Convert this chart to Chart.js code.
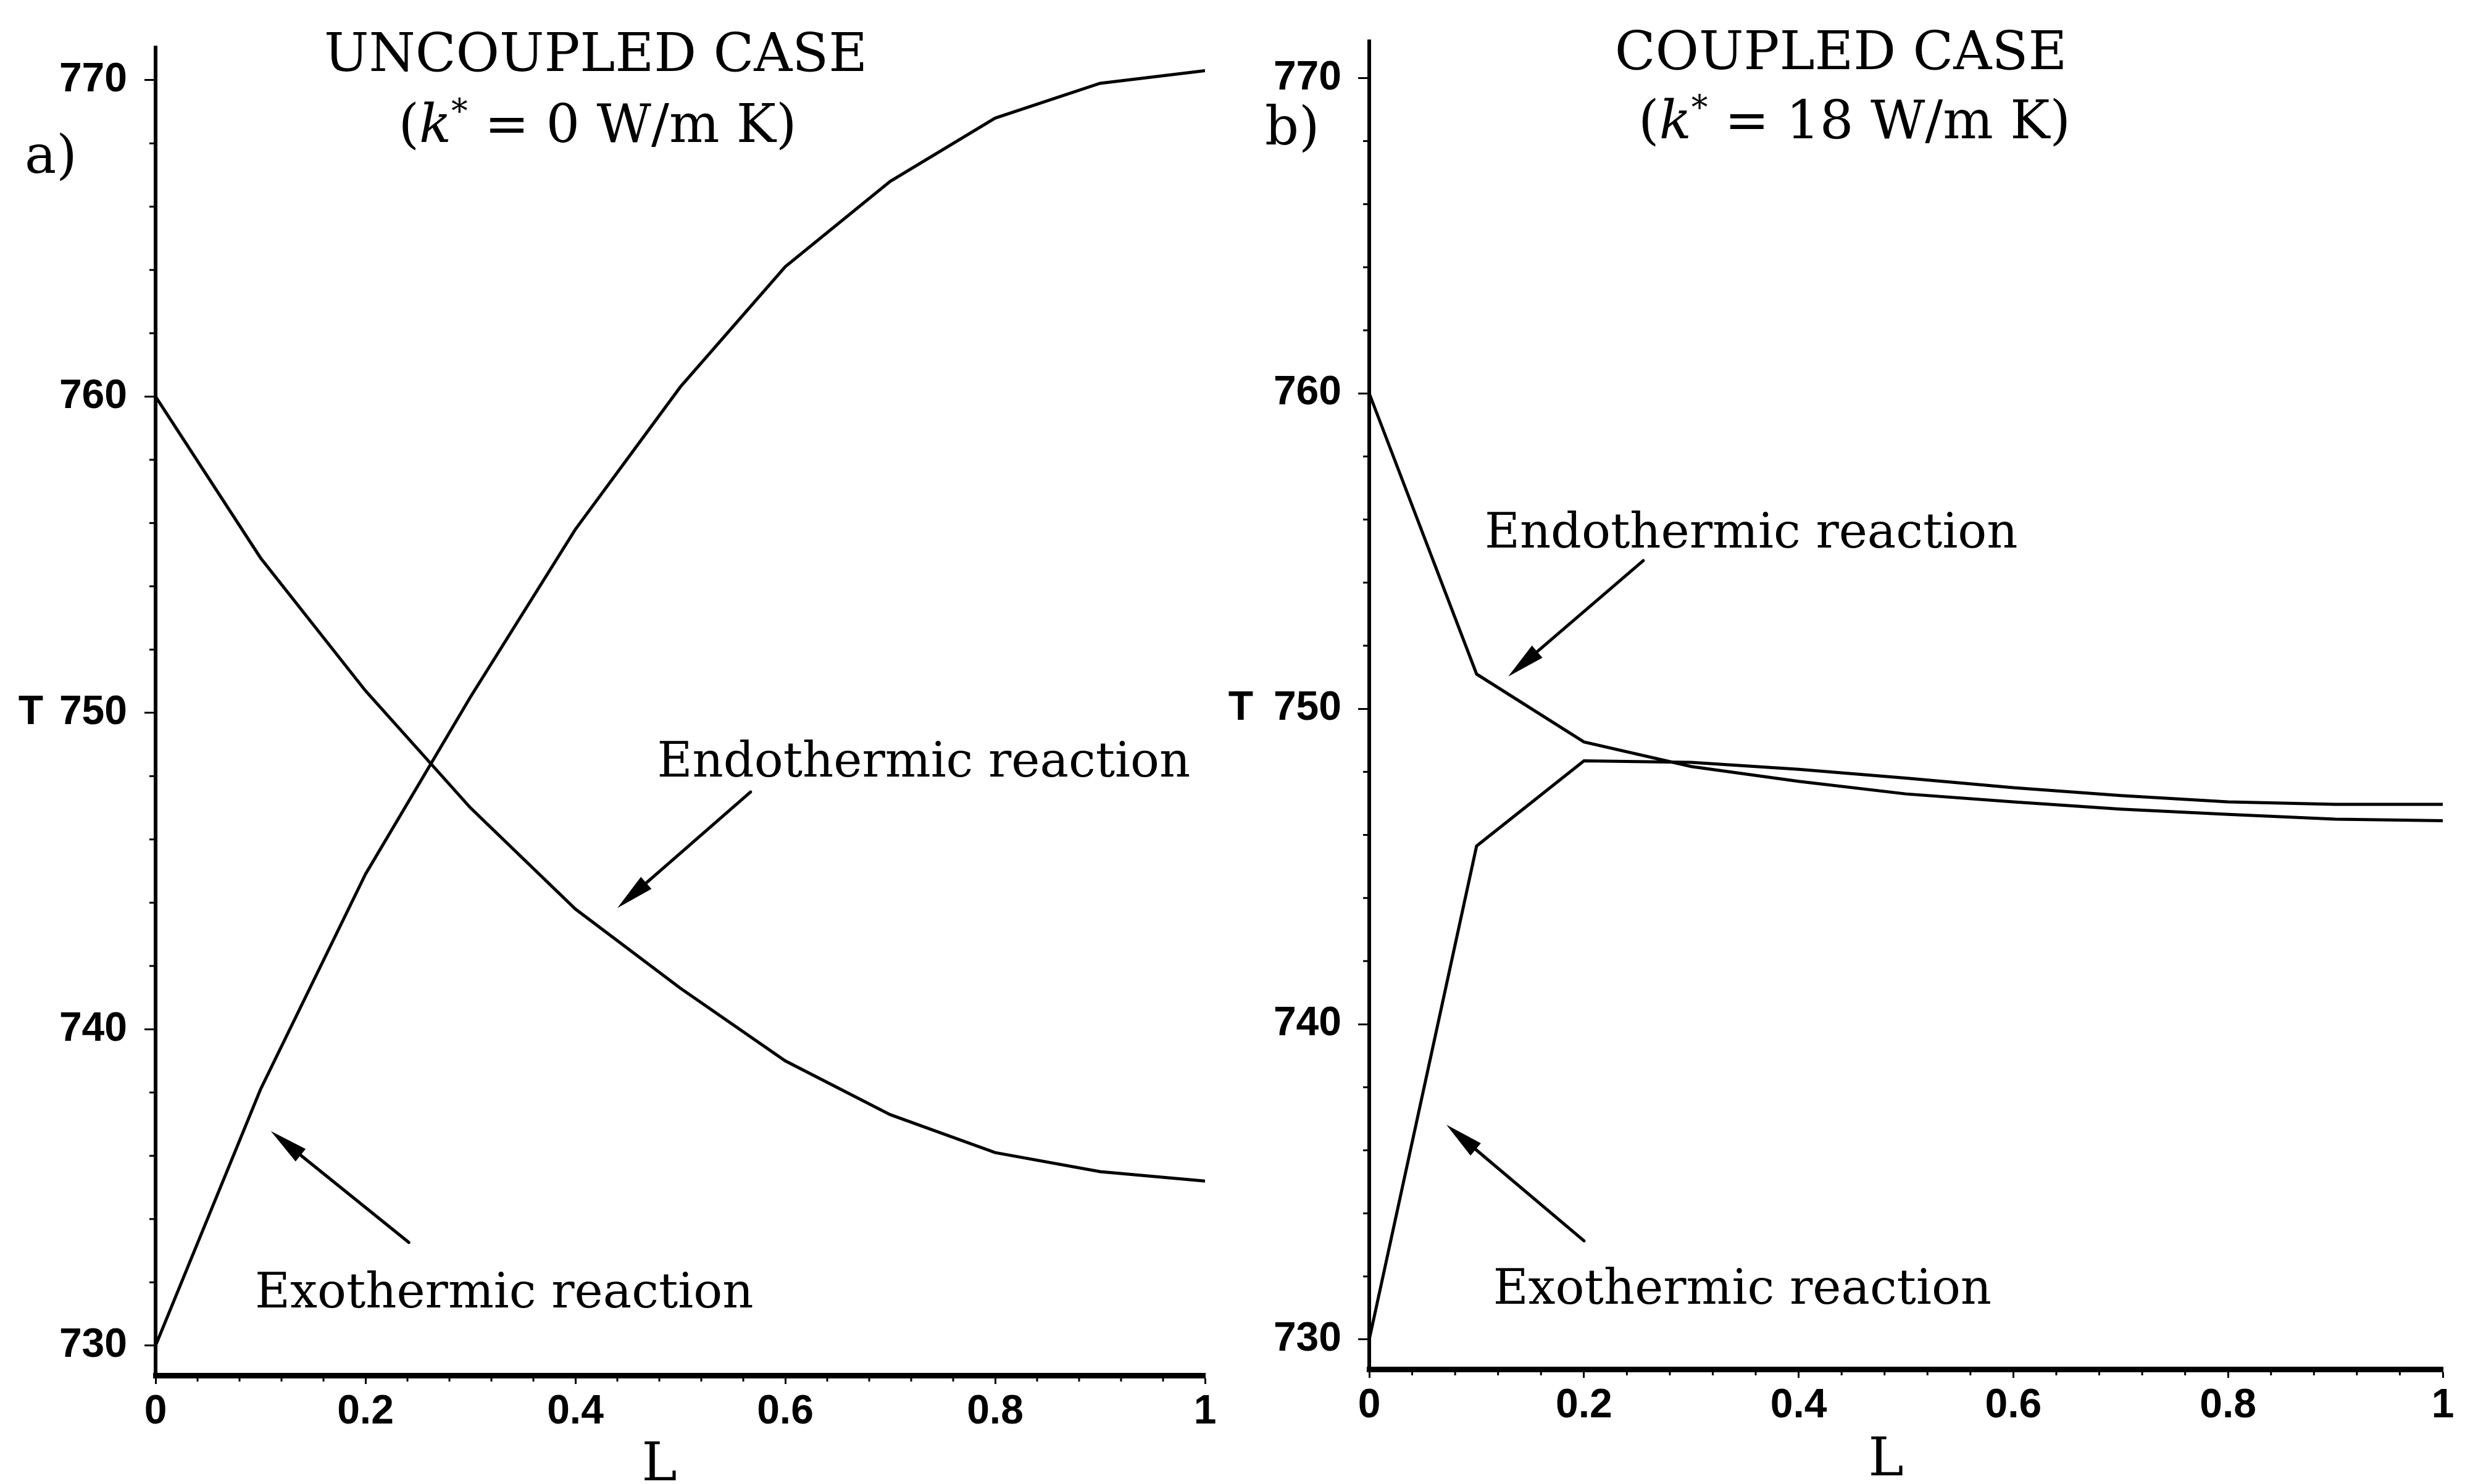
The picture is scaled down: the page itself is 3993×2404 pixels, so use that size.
<!DOCTYPE html>
<html><head><meta charset="utf-8">
<script src="https://cdn.jsdelivr.net/npm/chart.js@4.4.1/dist/chart.umd.min.js"></script>
<style>
html,body{margin:0;padding:0;background:#fff;}
body{width:3993px;height:2404px;position:relative;overflow:hidden;}
canvas{position:absolute;top:0;}
#c1{left:0;} #c2{left:1990px;}
</style></head><body>
<canvas id="c1" width="1990" height="2404"></canvas>
<canvas id="c2" width="2003" height="2404"></canvas>
<script>
// ---------------- DATA ----------------
const L = [0, 0.1, 0.2, 0.3, 0.4, 0.5, 0.6, 0.7, 0.8, 0.9, 1.0];
const uncoupledExo  = [730, 738.1, 744.9, 750.5, 755.8, 760.3, 764.1, 766.8, 768.8, 769.9, 770.3];
const uncoupledEndo = [760, 754.9, 750.7, 747.0, 743.8, 741.3, 739.0, 737.3, 736.1, 735.5, 735.2];
const coupledExo    = [730, 745.65, 748.35, 748.3, 748.08, 747.8, 747.5, 747.25, 747.05, 746.97, 746.97];
const coupledEndo   = [760, 751.1, 748.95, 748.17, 747.7, 747.3, 747.05, 746.82, 746.65, 746.5, 746.45];
const yTickValues = [730, 740, 750, 760, 770];
const yTickLabels = ['730', '740', '750', '760', '770'];
const xTickValues = [0, 0.2, 0.4, 0.6, 0.8, 1];
const xTickLabels = ['0', '0.2', '0.4', '0.6', '0.8', '1'];
const panelTitles = ['UNCOUPLED CASE', 'COUPLED CASE'];
const panelK = ['0', '18'];
const panelLetters = ['a)', 'b)'];
const xAxisTitle = 'L';
const yAxisTitle = 'T';
const endoLabel = 'Endothermic reaction';
const exoLabel = 'Exothermic reaction';

// ---------------- STYLE ----------------
const SERIF = '"DejaVu Serif", "Liberation Serif", serif';
const SANS = '"Liberation Sans", Arial, sans-serif';
const INK = '#000';

function drawRich(ctx, segs, cx, y, size) {
  let total = 0;
  const parts = segs.map(s => {
    const fs = s.sup ? size * 0.62 : size;
    const font = (s.italic ? 'italic ' : '') + fs + 'px ' + SERIF;
    ctx.font = font;
    const w = ctx.measureText(s.t).width;
    total += w;
    return {font, w, t: s.t, dy: s.sup ? -size * 0.36 : 0};
  });
  let x = cx - total / 2;
  ctx.textAlign = 'left'; ctx.textBaseline = 'alphabetic';
  parts.forEach(p => { ctx.font = p.font; ctx.fillText(p.t, x, y + p.dy); x += p.w; });
}

function drawArrow(ctx, x1, y1, x2, y2, lw, hl, hw) {
  const a = Math.atan2(y2 - y1, x2 - x1);
  const bx = x2 - hl * Math.cos(a), by = y2 - hl * Math.sin(a);
  ctx.lineWidth = lw; ctx.strokeStyle = INK; ctx.fillStyle = INK; ctx.lineCap = 'round';
  ctx.beginPath(); ctx.moveTo(x1, y1); ctx.lineTo(bx, by); ctx.stroke();
  ctx.beginPath(); ctx.moveTo(x2, y2);
  ctx.lineTo(bx + hw * Math.sin(a), by - hw * Math.cos(a));
  ctx.lineTo(bx - hw * Math.sin(a), by + hw * Math.cos(a));
  ctx.closePath(); ctx.fill();
}

const panelPlugin = {
  id: 'panel',
  afterDraw(chart, args, o) {
    const ctx = chart.ctx, xs = chart.scales.x, ys = chart.scales.y, ca = chart.chartArea;
    const px = v => xs.getPixelForValue(v), py = v => ys.getPixelForValue(v);
    ctx.save();
    ctx.fillStyle = INK; ctx.strokeStyle = INK;
    // minor ticks
    ctx.lineWidth = 3;
    for (let v = 730; v <= 770.01; v += 2) {
      if (Math.abs(v % 10) < 0.01) continue;
      const y = py(v);
      ctx.beginPath(); ctx.moveTo(ca.left - 10, y); ctx.lineTo(ca.left, y); ctx.stroke();
    }
    for (let i = 0; i <= 25; i++) {
      if (i % 5 === 0) continue;
      const x = px(i * 0.04);
      ctx.beginPath(); ctx.moveTo(x, ca.bottom); ctx.lineTo(x, ca.bottom + 10); ctx.stroke();
    }
    // title
    ctx.font = '86px ' + SERIF; ctx.textAlign = 'center'; ctx.textBaseline = 'alphabetic';
    ctx.fillText(o.title, px(o.titlePos[0]), py(o.titlePos[1]));
    drawRich(ctx, [{t: '('}, {t: 'k', italic: true}, {t: '*', sup: true}, {t: ' = ' + o.k + ' W/m K)'}],
      px(o.subPos[0]), py(o.subPos[1]), 86);
    // panel letter
    ctx.font = '86px ' + SERIF; ctx.textAlign = 'left';
    ctx.fillText(o.letter, px(o.letterPos[0]), py(o.letterPos[1]));
    // annotations
    ctx.font = '78px ' + SERIF; ctx.textAlign = 'left';
    o.texts.forEach(t => ctx.fillText(t.t, px(t.at[0]), py(t.at[1])));
    o.arrows.forEach(a => drawArrow(ctx, px(a.from[0]), py(a.from[1]), px(a.to[0]), py(a.to[1]), 5, 62, 13));
    // axis titles
    ctx.font = '86px ' + SERIF; ctx.textAlign = 'center';
    ctx.fillText(xAxisTitle, px(o.xTitle[0]), o.xTitle[1]);
    ctx.font = 'bold 66px ' + SANS; ctx.textBaseline = 'middle';
    ctx.fillText(yAxisTitle, o.yTitleX, py(750));
    ctx.restore();
  }
};

function makeChart(id, exo, endo, yMax, yAxisWidth, xAxisHeight, pad, panelOpts, labelPad) {
  const mk = arr => L.map((l, i) => ({x: l, y: arr[i]}));
  const ds = (arr) => ({data: mk(arr), borderColor: INK, borderWidth: 5, pointRadius: 0, tension: 0, fill: false});
  return new Chart(document.getElementById(id), {
    type: 'line',
    data: {datasets: [ds(exo), ds(endo)]},
    options: {
      responsive: false, animation: false, devicePixelRatio: 1,
      layout: {padding: pad},
      plugins: {legend: {display: false}, tooltip: {enabled: false}, panel: panelOpts},
      scales: {
        x: {
          type: 'linear', position: 'bottom', min: 0, max: 1,
          afterBuildTicks: s => { s.ticks = xTickValues.map(v => ({value: v})); },
          afterFit: s => { s.height = xAxisHeight; },
          ticks: {callback: (v, i) => xTickLabels[i], color: INK, padding: 6, maxRotation: 0, autoSkip: false,
                  font: {family: SANS, size: 66, weight: 'bold'}},
          grid: {drawOnChartArea: false, drawTicks: true, tickLength: 14, tickWidth: 3, tickColor: INK, color: INK},
          border: {display: true, width: 9, color: INK}
        },
        y: {
          type: 'linear', position: 'left', min: 729.06, max: yMax,
          afterBuildTicks: s => { s.ticks = yTickValues.map(v => ({value: v})); },
          afterFit: s => { s.width = yAxisWidth; },
          ticks: {callback: (v, i) => yTickLabels[i], color: INK, padding: labelPad, autoSkip: false,
                  font: {family: SANS, size: 66, weight: 'bold'}},
          grid: {drawOnChartArea: false, drawTicks: true, tickLength: 18, tickWidth: 3, tickColor: INK, color: INK},
          border: {display: true, width: 6, color: INK}
        }
      }
    },
    plugins: [panelPlugin]
  });
}

makeChart('c1', uncoupledExo, uncoupledEndo, 771.03, 252, 176, {left: 0, top: 77, right: 38, bottom: 0}, {
  title: panelTitles[0], k: panelK[0], letter: panelLetters[0],
  titlePos: [0.4194, 770.29], subPos: [0.4212, 768.05], letterPos: [-0.1247, 767.07],
  texts: [{t: endoLabel, at: [0.478, 747.99]}, {t: exoLabel, at: [0.0947, 731.21]}],
  arrows: [{from: [0.567, 747.50], to: [0.44, 743.83]}, {from: [0.2414, 733.26], to: [0.1098, 736.78]}],
  xTitle: [0.48, 2398], yTitleX: 50
}, 28);

makeChart('c2', coupledExo, coupledEndo, 771.17, 228, 186, {left: 0, top: 62, right: 36, bottom: 0}, {
  title: panelTitles[1], k: panelK[1], letter: panelLetters[1],
  titlePos: [0.4393, 770.29], subPos: [0.452, 768.09], letterPos: [-0.0972, 767.89],
  texts: [{t: endoLabel, at: [0.1075, 755.12]}, {t: exoLabel, at: [0.1154, 731.13]}],
  arrows: [{from: [0.2553, 754.70], to: [0.1294, 751.02]}, {from: [0.2001, 733.13], to: [0.0719, 736.81]}],
  xTitle: [0.4813, 2390], yTitleX: 20
}, 27);
</script>
</body></html>
